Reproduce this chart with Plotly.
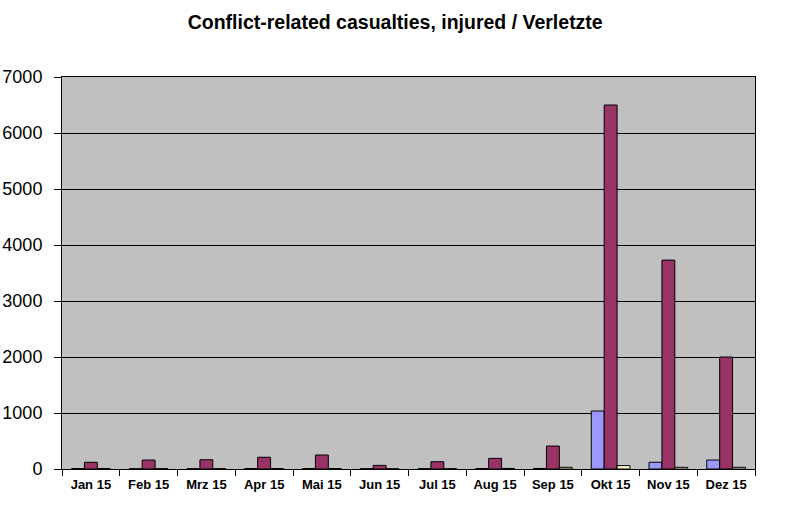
import plotly.graph_objects as go

months = ["Jan 15", "Feb 15", "Mrz 15", "Apr 15", "Mai 15", "Jun 15",
          "Jul 15", "Aug 15", "Sep 15", "Okt 15", "Nov 15", "Dez 15"]
series_a = [8, 6, 6, 8, 8, 5, 6, 8, 10, 1035, 120, 160]
series_b = [120, 160, 165, 210, 250, 65, 130, 190, 410, 6500, 3730, 2000]
series_c = [8, 6, 6, 8, 8, 5, 6, 10, 30, 60, 30, 30]

colors = ["#9999FF", "#993366", "#FFFFCC"]

fig = go.Figure()
for vals, col in zip([series_a, series_b, series_c], colors):
    fig.add_trace(go.Bar(x=months, y=vals, marker=dict(color=col, line=dict(color="black", width=1)),
                         showlegend=False))

fig.update_layout(
    width=800, height=518,
    margin=dict(l=62, r=45, t=77, b=49),
    paper_bgcolor="white", plot_bgcolor="#C0C0C0",
    barmode="group", bargap=0.33, bargroupgap=0,
    title=dict(text="<b>Conflict-related casualties, injured / Verletzte</b>",
               x=0.494, xanchor="center", y=0.957, yanchor="middle",
               font=dict(family="Liberation Sans, Arial", size=19.5, color="black")),
    font=dict(family="Liberation Sans, Arial", color="black"),
)
fig.update_xaxes(showline=True, linecolor="black", linewidth=1, mirror=True,
                 ticks="outside", tickson="boundaries", ticklen=6, tickcolor="black",
                 tickfont=dict(size=13, family="Liberation Sans, Arial"),
                 ticklabelstandoff=3, automargin=False,
                 tickprefix="<b>", ticksuffix="</b>", showgrid=False)
fig.update_yaxes(range=[0, 7000], dtick=1000, showline=True, linecolor="black", linewidth=1,
                 mirror=True, ticks="outside", ticklen=7, tickcolor="black",
                 tickfont=dict(size=18), ticklabelstandoff=8, automargin=False,
                 showgrid=True, gridcolor="black", gridwidth=1,
                 zeroline=False)

fig.write_html("out.html")
